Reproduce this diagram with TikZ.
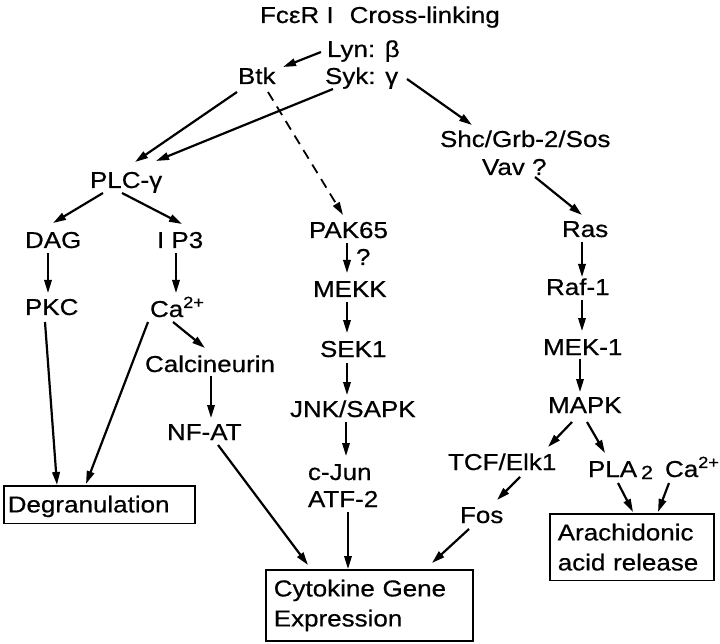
\documentclass[tikz,border=0pt]{standalone}
\usepackage{fontspec}
\setmainfont{Liberation Sans}[FakeStretch=1.13,FakeBold=0.6]
\usetikzlibrary{arrows.meta,calc}
\begin{document}
\begin{tikzpicture}[x=1pt,y=-1pt,
  lbl/.style={anchor=base west, inner sep=0pt, outer sep=0pt, font=\fontsize{23}{30}\selectfont},
  arr/.style={line width=2.2pt, -{Triangle[length=13pt,width=7.5pt]}},
  varr/.style={arr, line width=1.8pt},
  dasharr/.style={arr, line width=1.8pt, dash pattern=on 10pt off 7pt},
  box/.style={draw, line width=1.5pt, anchor=north west, align=left, inner xsep=8pt, inner ysep=10pt, font=\fontsize{23}{30}\selectfont}]
\useasboundingbox (0,0) rectangle (720,644);

% text nodes
\node[lbl] (title) at (260,23) {FcεR I\hspace{16pt}Cross-linking};
\node[lbl] (lyn) at (327,57) {Lyn: β};
\node[lbl] (syk) at (325,84) {Syk: γ};
\node[lbl] (btk) at (238,84) {Btk};
\node[lbl] (shc) at (440,147) {Shc/Grb-2/Sos};
\node[lbl] (vav) at (482,175) {Vav ?};
\node[lbl] (plc) at (90,188) {PLC-γ};
\node[lbl] (dag) at (25,248) {DAG};
\node[lbl] (ip3) at (157,248) {I P3};
\node[lbl] (pak) at (309,238) {PAK65};
\node[lbl] (qmark) at (356,265) {?};
\node[lbl] (mekk) at (313,297) {MEKK};
\node[lbl] (pkc) at (25,315) {PKC};
\node[lbl] (ca) at (150,317) {Ca\textsuperscript{2+}};
\node[lbl] (sek) at (320,357) {SEK1};
\node[lbl] (calc) at (145,372) {Calcineurin};
\node[lbl] (jnk) at (290,417) {JNK/SAPK};
\node[lbl] (nfat) at (167,440) {NF-AT};
\node[lbl] (cjun) at (308,480) {c-Jun};
\node[lbl] (atf) at (308,507) {ATF-2};
\node[lbl] (ras) at (562,237) {Ras};
\node[lbl] (raf) at (546,295) {Raf-1};
\node[lbl] (mek) at (543,355) {MEK-1};
\node[lbl] (mapk) at (548,413) {MAPK};
\node[lbl] (tcf) at (448,470) {TCF/Elk1};
\node[lbl] (pla) at (588,477) {PLA\hspace{4pt}\raisebox{-2pt}{\fontsize{19}{19}\selectfont 2}};
\node[lbl] (ca2) at (665,477) {Ca\textsuperscript{2+}};
\node[lbl] (fos) at (460,523) {Fos};

% boxes
\node[box, text width=183pt, inner xsep=4pt, text depth=1pt] (degr) at (3,485) {Degranulation};
\node[box, text width=191pt] (cyto) at (265,569) {Cytokine Gene\\Expression};
\node[box, text width=148pt] (arach) at (549,513) {Arachidonic\\acid release};

% connectors
\draw[arr] ($(lyn.base west)+(-6,-5)$) -- ($(btk.base west)+(45,-17)$);
\draw[arr] ($(btk.base west)+(-1,8)$) -- ($(plc.base west)+(45,-26)$);
\draw[arr] ($(syk.base west)+(8,5)$) -- ($(plc.base west)+(66,-27)$);
\draw[dasharr] ($(btk.base west)+(30,8)$) -- ($(pak.base west)+(34,-23)$);
\draw[arr] ($(syk.base west)+(82,-5)$) -- ($(shc.base west)+(32,-22)$);
\draw[arr] ($(vav.base west)+(53,2)$) -- ($(ras.base west)+(20,-22)$);
\draw[arr] ($(plc.base west)+(13,5)$) -- ($(dag.base west)+(28,-25)$);
\draw[arr] ($(plc.base west)+(32,5)$) -- ($(ip3.base west)+(25,-24)$);
\draw[varr] ($(dag.base west)+(23,5)$) -- ($(pkc.base west)+(23,-22)$);
\draw[varr] ($(ip3.base west)+(19,5)$) -- ($(ca.base west)+(26,-24)$);
\draw[arr] ($(pkc.base west)+(20,7)$) -- ($(degr.north west)+(54,0)$);
\draw[arr] ($(ca.base west)+(-2,5)$) -- ($(degr.north west)+(83,-1)$);
\draw[arr] ($(ca.base west)+(23,5)$) -- ($(calc.base west)+(60,-24)$);
\draw[varr] ($(calc.base west)+(66,4)$) -- ($(nfat.base west)+(44,-22)$);
\draw[arr] ($(nfat.base west)+(51,5)$) -- ($(cyto.north west)+(43,-4)$);
\draw[varr] ($(pak.base west)+(38,5)$) -- ($(mekk.base west)+(34,-24)$);
\draw[varr] ($(mekk.base west)+(34,5)$) -- ($(sek.base west)+(27,-24)$);
\draw[varr] ($(sek.base west)+(27,6)$) -- ($(jnk.base west)+(57,-22)$);
\draw[varr] ($(jnk.base west)+(56,5)$) -- ($(cjun.base west)+(38,-24)$);
\draw[varr] ($(atf.base west)+(40,5)$) -- ($(cyto.north west)+(83,0)$);
\draw[varr] ($(ras.base west)+(20,5)$) -- ($(raf.base west)+(36,-18)$);
\draw[varr] ($(raf.base west)+(36,5)$) -- ($(mek.base west)+(39,-24)$);
\draw[varr] ($(mek.base west)+(37,4)$) -- ($(mapk.base west)+(32,-21)$);
\draw[arr] ($(mapk.base west)+(24,9)$) -- ($(tcf.base west)+(100,-23)$);
\draw[arr] ($(mapk.base west)+(39,9)$) -- ($(pla.base west)+(17,-24)$);
\draw[arr] ($(tcf.base west)+(72,7)$) -- ($(fos.base west)+(37,-23)$);
\draw[arr] ($(fos.base west)+(9,6)$) -- ($(cyto.north west)+(167,-6)$);
\draw[arr] ($(pla.base west)+(30,6)$) -- ($(arach.north west)+(84,-1)$);
\draw[arr] ($(ca2.base west)+(4,6)$) -- ($(arach.north west)+(109,-1)$);
\end{tikzpicture}
\end{document}
